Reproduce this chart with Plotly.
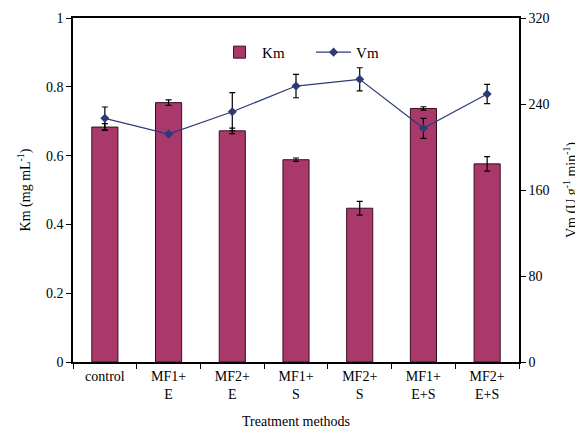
import plotly.graph_objects as go

categories = ["control", "MF1+<br>E", "MF2+<br>E", "MF1+<br>S", "MF2+<br>S", "MF1+<br>E+S", "MF2+<br>E+S"]
km_values = [0.683, 0.754, 0.672, 0.588, 0.447, 0.737, 0.576]
km_errors = [0.010, 0.008, 0.008, 0.005, 0.020, 0.005, 0.021]
vm_values = [226.7, 212.0, 232.8, 256.7, 263.0, 217.4, 249.3]
vm_errors = [10.5, 0.0, 17.7, 10.9, 10.7, 9.3, 9.0]

font_family = "Liberation Serif"

fig = go.Figure()
fig.add_trace(go.Bar(
    x=categories, y=km_values, name="Km",
    marker=dict(color="#A8396A", line=dict(color="#3a1020", width=1)),
    width=0.41,
    error_y=dict(type="data", array=km_errors, color="black", thickness=1.2, width=3),
))
fig.add_trace(go.Scatter(
    x=categories, y=vm_values, name="Vm", yaxis="y2", mode="lines+markers",
    line=dict(color="#2E3A78", width=1.2),
    marker=dict(symbol="diamond", size=7, color="#2E3A78"),
    error_y=dict(type="data", array=vm_errors, color="black", thickness=1.2, width=3),
))

fig.update_layout(
    width=575, height=421,
    margin=dict(l=65, r=64, t=10, b=67),
    paper_bgcolor="white", plot_bgcolor="white",
    font=dict(family=font_family, size=14, color="black"),
    showlegend=True,
    legend=dict(orientation="h", x=0.323, xanchor="left", y=0.90, yanchor="middle",
                bgcolor="rgba(0,0,0,0)", font=dict(size=15, family=font_family),
                itemwidth=35, entrywidth=44),
    xaxis=dict(
        automargin=False,
        showline=True, linecolor="black", linewidth=1.5, mirror=True,
        ticks="outside", tickson="boundaries", ticklen=5, tickcolor="black",
        ticklabelstandoff=0,
        title=dict(text="Treatment methods", font=dict(size=14, family=font_family), standoff=16),
        showgrid=False,
    ),
    yaxis=dict(
        automargin=False,
        range=[0, 1], dtick=0.2, showline=True, linecolor="black", linewidth=1.5,
        ticks="outside", ticklen=5, tickcolor="black", showgrid=False, zeroline=False,
        title=dict(text="Km (mg mL<sup>-1</sup>)", font=dict(size=14, family=font_family), standoff=12),
    ),
    yaxis2=dict(
        automargin=False,
        range=[0, 320], dtick=80, overlaying="y", side="right",
        showline=True, linecolor="black", linewidth=1.5,
        ticks="outside", ticklen=5, tickcolor="black", showgrid=False, zeroline=False,
        title=dict(text="Vm (U g<sup>-1</sup> min<sup>-1</sup>)", font=dict(size=14, family=font_family), standoff=18),
    ),
)

fig.write_html("out.html")
